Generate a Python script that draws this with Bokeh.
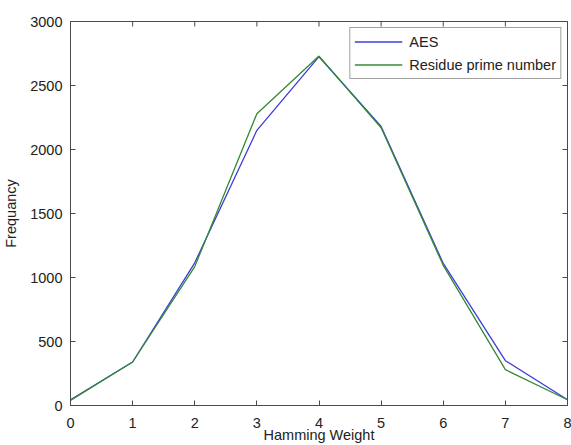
import math
from bokeh.plotting import figure
from bokeh.models import Range1d, LinearAxis, SingleIntervalTicker, Legend, LegendItem
from bokeh.embed import file_html
from bokeh.resources import INLINE

# Hamming weight distribution of S-box outputs
hamming_weight = [0, 1, 2, 3, 4, 5, 6, 7, 8]
aes_freq = [45, 340, 1115, 2150, 2725, 2180, 1110, 350, 45]
residue_prime_freq = [40, 340, 1085, 2280, 2730, 2170, 1095, 280, 45]

x_min, x_max = 0, 8
y_min, y_max = 0, 3000
x_ticks = [0, 1, 2, 3, 4, 5, 6, 7, 8]
y_ticks = [0, 500, 1000, 1500, 2000, 2500, 3000]

FONT = "Liberation Sans"
FSIZE = "14.5px"
TEXT_COLOR = "#222222"
AXIS_COLOR = "#4a4a4a"

p = figure(
    width=571, height=445,
    x_range=Range1d(x_min, x_max), y_range=Range1d(y_min, y_max),
    output_backend="svg", toolbar_location=None,
    min_border_left=70, min_border_right=4,
    min_border_top=21, min_border_bottom=38,
    x_axis_type=None, y_axis_type=None,
)
p.xgrid.visible = False
p.ygrid.visible = False
p.outline_line_color = AXIS_COLOR
p.outline_line_width = 1
p.background_fill_color = "white"
p.border_fill_color = "white"


def style_axis(ax):
    ax.axis_line_color = AXIS_COLOR
    ax.major_tick_line_color = AXIS_COLOR
    ax.major_tick_in = 5
    ax.major_tick_out = 0
    ax.minor_tick_line_color = None
    ax.major_label_text_font = FONT
    ax.major_label_text_color = TEXT_COLOR
    ax.major_label_text_font_size = FSIZE
    ax.axis_label_text_font = FONT
    ax.axis_label_text_font_style = "normal"
    ax.axis_label_text_color = TEXT_COLOR
    ax.axis_label_text_font_size = FSIZE


xb = LinearAxis(ticker=SingleIntervalTicker(interval=1), axis_label="Hamming Weight")
style_axis(xb)
xb.major_label_standoff = 8
xb.axis_label_standoff = -4
p.add_layout(xb, "below")

yl = LinearAxis(ticker=SingleIntervalTicker(interval=500), axis_label="Frequancy")
style_axis(yl)
yl.major_label_standoff = 4
yl.axis_label_standoff = 8
p.add_layout(yl, "left")

# inward tick marks on the top and right edges of the box (half of each dash
# falls outside the frame and is clipped away)
p.scatter(x_ticks, [y_max] * len(x_ticks), marker="dash", size=10,
          angle=math.pi / 2, line_color=AXIS_COLOR, line_width=1)
p.scatter([x_max] * len(y_ticks), y_ticks, marker="dash", size=10,
          line_color=AXIS_COLOR, line_width=1)

r_aes = p.line(hamming_weight, aes_freq, line_color="#3c3cdc", line_width=1.3)
r_res = p.line(hamming_weight, residue_prime_freq, line_color="#348a34", line_width=1.3)

legend = Legend(
    items=[LegendItem(label="AES", renderers=[r_aes]),
           LegendItem(label="Residue prime number", renderers=[r_res])],
    location="top_right",
    margin=6, padding=4, spacing=4,
    label_height=19, glyph_height=19, glyph_width=48, label_standoff=7,
    label_text_font=FONT, label_text_font_size=FSIZE, label_text_color=TEXT_COLOR,
    border_line_color="#444444", border_line_width=1,
    background_fill_color="white", background_fill_alpha=1.0,
)
p.add_layout(legend, "center")

open("out.html", "w").write(file_html(p, INLINE))
